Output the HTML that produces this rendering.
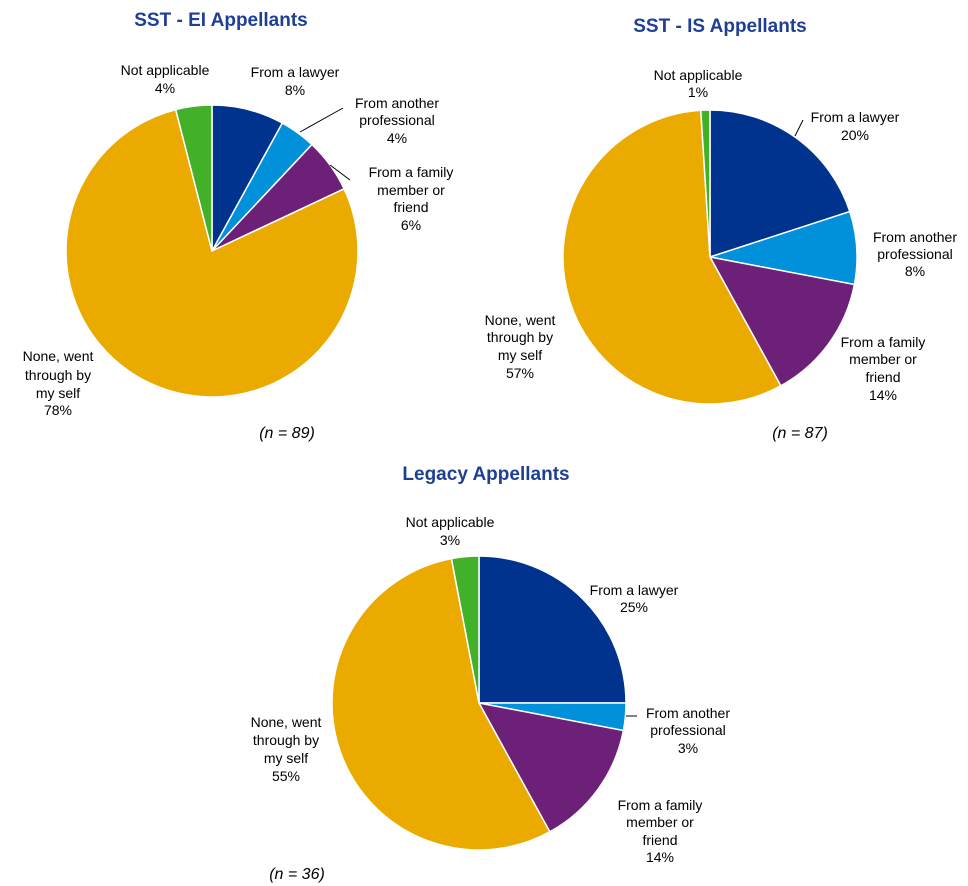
<!DOCTYPE html>
<html><head><meta charset="utf-8">
<style>
html,body{margin:0;padding:0;background:#fff;}
svg{display:block;font-family:"Liberation Sans",Arial,sans-serif;}
.t{font-size:19px;font-weight:bold;fill:#1F3F95;text-anchor:middle;}
.l{font-size:14px;fill:#000;text-anchor:middle;}
.n{font-size:16px;font-style:italic;fill:#000;text-anchor:middle;}
</style></head>
<body>
<svg id="chart" width="968" height="886" viewBox="0 0 968 886">
<g id="g1"></g>
<g id="g2"></g>
<g id="g3"></g>

<text class="t" x="221" y="26">SST - EI Appellants</text>
<text class="t" x="720" y="32">SST - IS Appellants</text>
<text class="t" x="486" y="480">Legacy Appellants</text>

<g>
<text class="l" x="165" y="75">Not applicable</text><text class="l" x="165" y="93">4%</text>
<text class="l" x="295" y="77">From a lawyer</text><text class="l" x="295" y="95">8%</text>
<text class="l" x="397" y="108">From another</text><text class="l" x="397" y="125">professional</text><text class="l" x="397" y="143">4%</text>
<text class="l" x="411" y="177">From a family</text><text class="l" x="411" y="195">member or</text><text class="l" x="411" y="212">friend</text><text class="l" x="411" y="230">6%</text>
<text class="l" x="58" y="361">None, went</text><text class="l" x="58" y="380">through by</text><text class="l" x="58" y="398">my self</text><text class="l" x="58" y="415">78%</text>
<line x1="300" y1="132" x2="343" y2="108" stroke="#000"/>
<line x1="330" y1="165" x2="350" y2="180" stroke="#000"/>
<text class="n" x="287" y="438">(n = 89)</text>
</g>

<g>
<text class="l" x="698" y="80">Not applicable</text><text class="l" x="698" y="97">1%</text>
<text class="l" x="855" y="122">From a lawyer</text><text class="l" x="855" y="140">20%</text>
<line x1="795" y1="136" x2="803" y2="120" stroke="#000"/>
<text class="l" x="915" y="242">From another</text><text class="l" x="915" y="259">professional</text><text class="l" x="915" y="276">8%</text>
<text class="l" x="883" y="347">From a family</text><text class="l" x="883" y="364">member or</text><text class="l" x="883" y="382">friend</text><text class="l" x="883" y="400">14%</text>
<text class="l" x="520" y="325">None, went</text><text class="l" x="520" y="342">through by</text><text class="l" x="520" y="360">my self</text><text class="l" x="520" y="378">57%</text>
<text class="n" x="800" y="438">(n = 87)</text>
</g>

<g>
<text class="l" x="450" y="527">Not applicable</text><text class="l" x="450" y="545">3%</text>
<text class="l" x="634" y="595">From a lawyer</text><text class="l" x="634" y="612">25%</text>
<text class="l" x="688" y="718">From another</text><text class="l" x="688" y="735">professional</text><text class="l" x="688" y="753">3%</text>
<line x1="626" y1="716" x2="637" y2="716" stroke="#000"/>
<text class="l" x="660" y="810">From a family</text><text class="l" x="660" y="827">member or</text><text class="l" x="660" y="845">friend</text><text class="l" x="660" y="862">14%</text>
<text class="l" x="286" y="727">None, went</text><text class="l" x="286" y="745">through by</text><text class="l" x="286" y="763">my self</text><text class="l" x="286" y="781">55%</text>
<text class="n" x="297" y="879">(n = 36)</text>
</g>
</svg>
<script>
const categories = ["From a lawyer","From another professional","From a family member or friend","None, went through by my self","Not applicable"];
const sstEiValues = [8,4,6,78,4];
const sstIsValues = [20,8,14,57,1];
const legacyValues = [25,3,14,55,3];
const colors = ["#00338D","#0091DA","#6D2077","#EAAA00","#43B02A"];
const NS="http://www.w3.org/2000/svg";
function drawPie(gid, vals, cx, cy, r, prefix){
  const g=document.getElementById(gid);
  const tot=vals.reduce((a,b)=>a+b,0);
  let a0=0;
  vals.forEach((v,i)=>{
    const a1=a0+v/tot*2*Math.PI;
    const x0=cx+r*Math.sin(a0), y0=cy-r*Math.cos(a0);
    const x1=cx+r*Math.sin(a1), y1=cy-r*Math.cos(a1);
    const large=(a1-a0)>Math.PI?1:0;
    const p=document.createElementNS(NS,"path");
    p.setAttribute("d",`M${cx},${cy} L${x0},${y0} A${r},${r} 0 ${large} 1 ${x1},${y1} Z`);
    p.setAttribute("fill",colors[i]);
    p.setAttribute("stroke","#fff");
    p.setAttribute("stroke-width","1.5");
    
    
    g.appendChild(p);
    a0=a1;
  });
}
drawPie("g1", sstEiValues, 212, 251, 146, "sst-ei");
drawPie("g2", sstIsValues, 710, 257, 147, "sst-is");
drawPie("g3", legacyValues, 479, 703, 147, "legacy");
</script>
</body></html>
